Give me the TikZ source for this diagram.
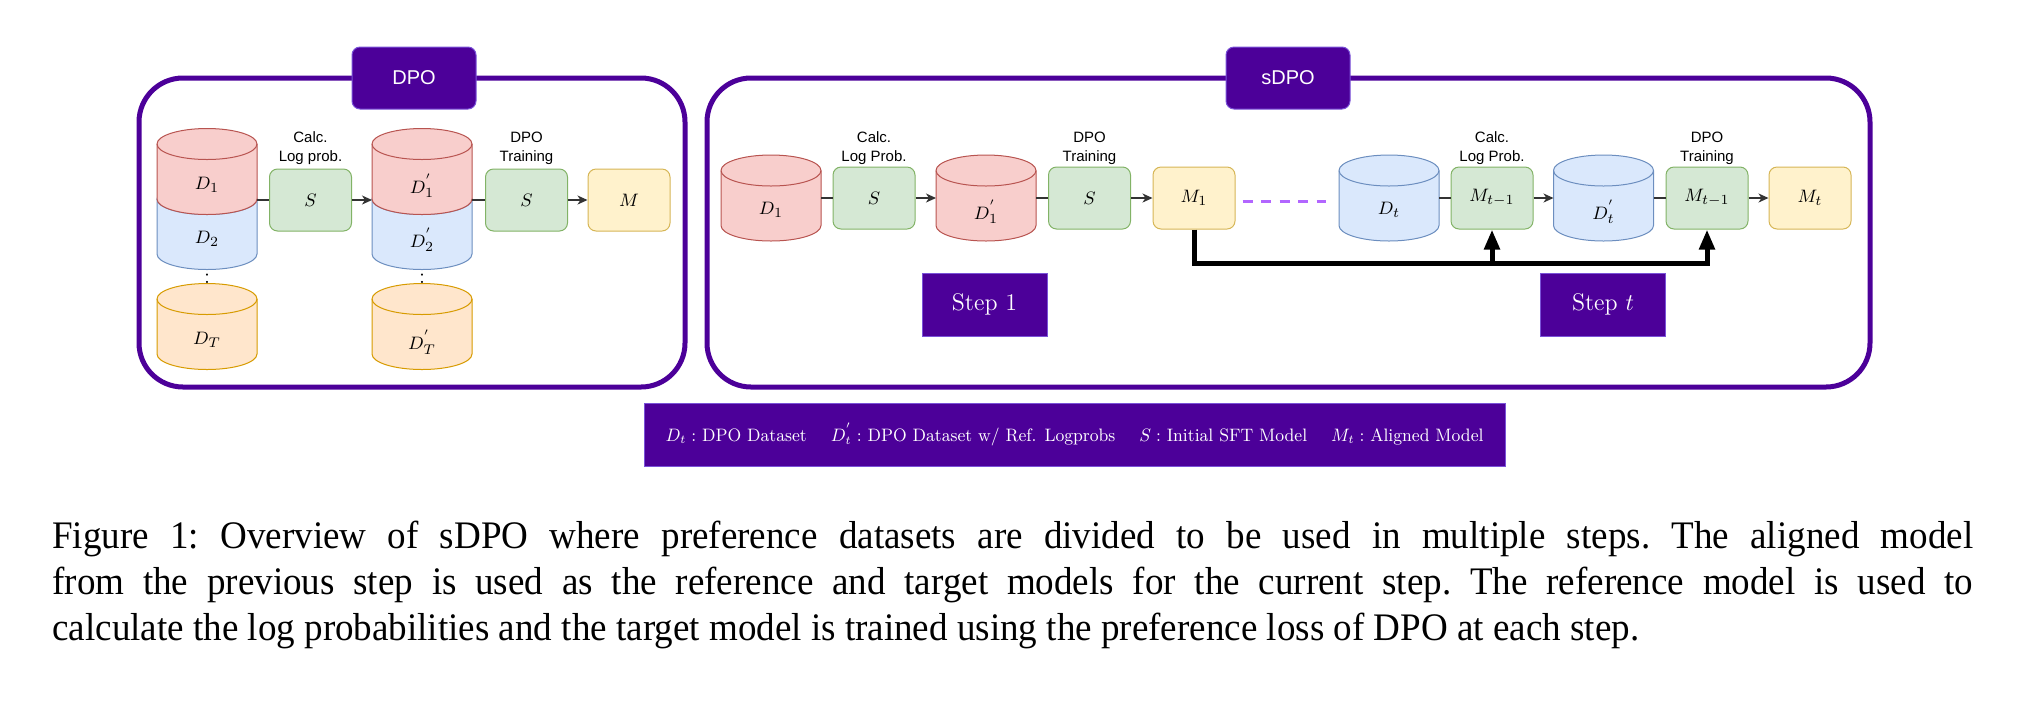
\documentclass[tikz,border=0pt]{standalone}
\usepackage{fontspec}
\usepackage{graphicx}
\usetikzlibrary{arrows.meta,calc}
\newfontfamily\sansf{Liberation Sans}
\newfontfamily\capf{Liberation Serif}
\definecolor{pdark}{HTML}{4C0099}
\definecolor{pborder}{HTML}{7A52D8}
\definecolor{rfill}{HTML}{F8CECC}\definecolor{rdraw}{HTML}{B85450}
\definecolor{bfill}{HTML}{DAE8FC}\definecolor{bdraw}{HTML}{6C8EBF}
\definecolor{ofill}{HTML}{FFE6CC}\definecolor{odraw}{HTML}{D79B00}
\definecolor{gfill}{HTML}{D5E8D4}\definecolor{gdraw}{HTML}{82B366}
\definecolor{yfill}{HTML}{FFF2CC}\definecolor{ydraw}{HTML}{D6B656}
\definecolor{dashc}{HTML}{B266FF}
\newcommand\cylfig[3]{%
  \filldraw[fill=#2, draw=#3, line width=0.5pt]
    ([yshift=-7.75pt]#1.north west) -- ([yshift=7.75pt]#1.south west)
    arc[start angle=180, end angle=360, x radius=25pt, y radius=7.75pt]
    -- ([yshift=-7.75pt]#1.north east)
    arc[start angle=0, end angle=180, x radius=25pt, y radius=7.75pt] -- cycle;
  \draw[draw=#3, line width=0.5pt] ([yshift=-7.75pt]#1.north west)
    arc[start angle=180, end angle=360, x radius=25pt, y radius=7.75pt];
}
\newcommand\capline[1]{\scalebox{0.95}[1]{\hbox to 1011pt{#1}}}
\begin{document}
\begin{tikzpicture}[x=0.5pt, y=-0.5pt,
  panel/.style={draw=pdark, line width=2.5pt, rounded corners=22pt, inner sep=0},
  tag/.style={fill=pdark, draw=pborder, line width=0.5pt, rounded corners=4pt, minimum width=62pt, minimum height=31pt, text=white, font=\sansf\fontsize{10}{12}\selectfont, inner sep=0},
  box/.style={rounded corners=4pt, line width=0.5pt, minimum width=41pt, minimum height=31pt, inner sep=0, font=\fontsize{9.5}{11}\selectfont},
  gbox/.style={box, fill=gfill, draw=gdraw},
  ybox/.style={box, fill=yfill, draw=ydraw},
  cylnode/.style={minimum width=50pt, minimum height=43pt, inner sep=0, outer sep=0},
  cyllbl/.style={font=\fontsize{9.5}{11}\selectfont, inner sep=0},
  dotsn/.style={font=\fontsize{11}{12}\selectfont, inner sep=0, anchor=base},
  optxt/.style={align=center, font=\sansf\fontsize{7.5}{9.5}\selectfont, inner sep=0},
  conn/.style={draw=black!80, line width=0.6pt},
  arr/.style={conn, -{Stealth[length=5pt,width=4.5pt,inset=1.5pt]}},
  fat/.style={line width=2.5pt, -{Triangle[length=10pt,width=7.5pt]}},
  stepbox/.style={fill=pdark, draw=pborder, line width=0.5pt, minimum width=62.5pt, minimum height=31.5pt, text=white, inner sep=0, font=\fontsize{12}{14}\selectfont},
  legendbox/.style={fill=pdark, draw=pborder, line width=0.5pt, minimum width=430.5pt, minimum height=31.5pt, text=white, inner sep=0, font=\fontsize{9}{10.5}\selectfont},
  captxt/.style={anchor=base west, inner sep=0, font=\capf\fontsize{19.5}{23}\selectfont\frenchspacing}
]
\useasboundingbox (0,0) rectangle (2025,714);

% panels
\node[panel, minimum width=273pt, minimum height=154.5pt] (pdpo) at (412,232.5) {};
\node[panel, minimum width=581.5pt, minimum height=154.5pt] (psdpo) at (1288.5,232.5) {};
\node[tag] (tdpo) at (414,78) {DPO};
\node[tag] (tsdpo) at (1288,78) {sDPO};

% ---------- DPO panel ----------
\node[cylnode] (dA2) at (207,226.5) {}; \cylfig{dA2}{bfill}{bdraw}
\node[cylnode] (dA1) at (207,171.5) {}; \cylfig{dA1}{rfill}{rdraw}
\node[cylnode] (dAT) at (207,326.5) {}; \cylfig{dAT}{ofill}{odraw}
\node[cylnode] (dB2) at (422,226.5) {}; \cylfig{dB2}{bfill}{bdraw}
\node[cylnode] (dB1) at (422,171.5) {}; \cylfig{dB1}{rfill}{rdraw}
\node[cylnode] (dBT) at (422,326.5) {}; \cylfig{dBT}{ofill}{odraw}
\node[dotsn] (vdA) at (207,283) {:};
\node[dotsn] (vdB) at (422,283) {:};
\node[cyllbl] (lA1) at (207,185) {$D_1$};
\node[cyllbl] (lA2) at (207,239) {$D_2$};
\node[cyllbl] (lAT) at (207,340) {$D_T$};
\node[cyllbl] (lB1) at (422,186) {$D^{'}_1$};
\node[cyllbl] (lB2) at (422,240) {$D^{'}_2$};
\node[cyllbl] (lBT) at (422,342) {$D^{'}_T$};

\node[gbox] (sA) at (310.5,200) {$S$};
\node[gbox] (sB) at (526.5,200) {$S$};
\node[ybox] (mA) at (629,200) {$M$};
\node[optxt] (oA) at (sA |- 0,148) {Calc.\\Log prob.};
\node[optxt] (oB) at (sB |- 0,148) {DPO\\Training};

\draw[conn] (sA.west -| dA1.east) -- (sA.west);
\draw[arr] (sA.east) -- (sA.east -| dB1.west);
\draw[conn] (sB.west -| dB1.east) -- (sB.west);
\draw[arr] (sB.east) -- (mA.west);

% ---------- sDPO panel ----------
\node[cylnode] (e1) at (771,198) {}; \cylfig{e1}{rfill}{rdraw}
\node[cylnode] (e1p) at (986,198) {}; \cylfig{e1p}{rfill}{rdraw}
\node[cylnode] (et) at (1389,198) {}; \cylfig{et}{bfill}{bdraw}
\node[cylnode] (etp) at (1603.5,198) {}; \cylfig{etp}{bfill}{bdraw}
\node[cyllbl] (le1) at (771,210) {$D_1$};
\node[cyllbl] (le1p) at (986,212) {$D^{'}_1$};
\node[cyllbl] (let) at (1389,210) {$D_t$};
\node[cyllbl] (letp) at (1603.5,212) {$D^{'}_t$};

\node[gbox] (s1) at (874,198) {$S$};
\node[gbox] (s2) at (1089.5,198) {$S$};
\node[ybox] (m1) at (1194,198) {$M_1$};
\node[gbox] (mta) at (1492,198) {$M_{t-1}$};
\node[gbox] (mtb) at (1707,198) {$M_{t-1}$};
\node[ybox] (mt) at (1810,198) {$M_t$};

\node[optxt] (o1) at (s1 |- 0,148) {Calc.\\Log Prob.};
\node[optxt] (o2) at (s2 |- 0,148) {DPO\\Training};
\node[optxt] (o3) at (mta |- 0,148) {Calc.\\Log Prob.};
\node[optxt] (o4) at (mtb |- 0,148) {DPO\\Training};

\draw[conn] (e1.east) -- (s1.west);
\draw[arr] (s1.east) -- (e1p.west);
\draw[conn] (e1p.east) -- (s2.west);
\draw[arr] (s2.east) -- (m1.west);
\draw[conn] (et.east) -- (mta.west);
\draw[arr] (mta.east) -- (etp.west);
\draw[conn] (etp.east) -- (mtb.west);
\draw[arr] (mtb.east) -- (mt.west);

\draw[dashc, line width=1.5pt, dash pattern=on 5pt off 4.25pt]
  ([xshift=3.5pt,yshift=-1.5pt]m1.east) -- ([xshift=-6.5pt,yshift=-1.5pt]et.west);

\coordinate (bus) at ([yshift=-17pt]m1.south);
\draw[fat] (m1.south) -- (bus) -| (mtb.south);
\draw[fat] (bus -| mta.south) -- (mta.south);

\node[stepbox] (st1) at (984.5,304.5) {Step 1};
\node[stepbox] (stt) at (1603,304.5) {Step $t$};

% legend
\node[legendbox] (leg) at (1074.5,434.5) {\resizebox{409pt}{\height}{$D_t:$ DPO Dataset\hspace{1.4em}$D^{'}_t:$ DPO Dataset w/ Ref. Logprobs\hspace{1.4em}$S:$ Initial SFT Model\hspace{1.4em}$M_t:$ Aligned Model}};

% caption
\node[captxt] (cap1) at (52,548) {\capline{Figure 1: Overview of sDPO where preference datasets are divided to be used in multiple steps. The aligned model}};
\node[captxt] (cap2) at (52,594) {\capline{from the previous step is used as the reference and target models for the current step. The reference model is used to}};
\node[captxt] (cap3) at (52,640) {\scalebox{0.95}[1]{calculate the log probabilities and the target model is trained using the preference loss of DPO at each step.}};
\end{tikzpicture}
\end{document}
